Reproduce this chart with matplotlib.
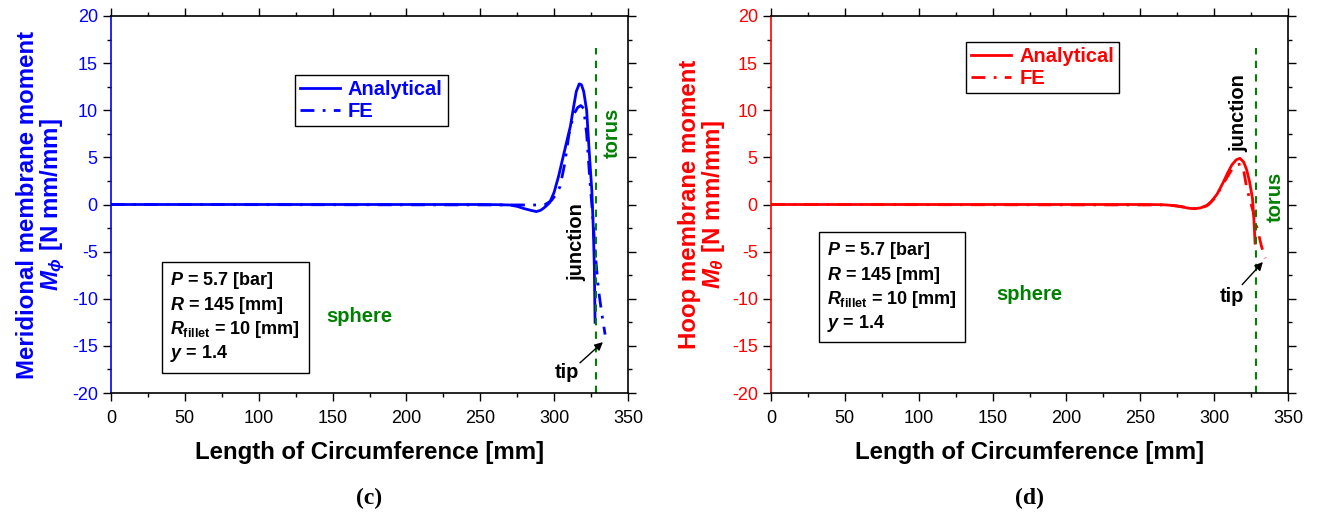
import matplotlib
matplotlib.use("Agg")
import matplotlib.pyplot as plt
from matplotlib.ticker import MultipleLocator

plt.rcParams['font.family'] = ['Liberation Sans', 'DejaVu Sans']
plt.rcParams['mathtext.fontset'] = 'custom'
plt.rcParams['mathtext.rm'] = 'Liberation Sans:bold'
plt.rcParams['mathtext.bf'] = 'Liberation Sans:bold'
plt.rcParams['mathtext.it'] = 'Liberation Sans:italic:bold'
plt.rcParams['axes.unicode_minus'] = False

# (c) meridional moment
xc_an = [0, 250, 262, 270, 275, 280, 285, 288, 291, 294, 297, 300, 303, 306, 309, 311,
         313, 315, 317, 318.5, 320, 322, 324, 325.5, 326.5, 327.2, 327.7]
yc_an = [0, 0, -0.02, -0.05, -0.2, -0.45, -0.65, -0.75, -0.6, -0.25, 0.2, 1.3, 3.0, 5.0,
         7.0, 8.3, 10.2, 12.0, 12.8, 12.7, 12.0, 10.0, 5.0, 1.5, -2.5, -6.5, -12.5]
xc_fe = [0, 290, 294, 298, 301, 304, 307, 310, 313, 316, 318, 320, 322, 324, 326, 328,
         330, 332, 334.5]
yc_fe = [0, -0.05, 0.0, 0.4, 1.0, 1.9, 4.2, 7.4, 9.5, 10.3, 10.5, 10.2, 7.5, 3.0, -1.0,
         -5.5, -9.0, -11.3, -13.8]

# (d) hoop moment
xd_an = [0, 250, 265, 272, 278, 283, 287, 291, 295, 298, 302, 306, 309, 312, 315, 317.5,
         320, 322, 324, 326, 327, 327.7]
yd_an = [0, 0, -0.02, -0.1, -0.25, -0.4, -0.45, -0.35, -0.1, 0.3, 1.1, 2.3, 3.3, 4.2, 4.75,
         4.9, 4.5, 3.7, 2.4, 0.6, -1.8, -4.1]
xd_fe = [0, 265, 275, 283, 288, 292, 296, 300, 304, 308, 312, 315, 318, 320, 322, 324,
         326, 328, 330, 332, 334.5]
yd_fe = [0, -0.05, -0.15, -0.35, -0.45, -0.35, -0.05, 0.6, 1.6, 2.7, 3.7, 4.2, 4.3, 3.6,
         1.8, 0.6, -0.5, -1.8, -3.1, -4.4, -5.7]

torus_x = 328
torus_y = [-20, 16.6]
params = ["$P$ = 5.7 [bar]", "$R$ = 145 [mm]", r"$R_\mathrm{fillet}$ = 10 [mm]", "$y$ = 1.4"]

green = '#008000'
fig = plt.figure(figsize=(13.22, 5.15), dpi=100)


def panel(pos, x_an, y_an, x_fe, y_fe, col, ylab, tag, leg_loc, box_xy, sph_xy,
          junc_xy, torus_xy, tip_xy, tip_from, tip_to):
    ax = fig.add_axes(pos)
    ax.plot(x_an, y_an, color=col, lw=2, label='Analytical')
    ax.plot(x_fe, y_fe, color=col, lw=2, dashes=[5, 3, 1, 3], label='FE')
    ax.plot([torus_x, torus_x], torus_y, color=green, lw=1.5, dashes=[3.5, 3])
    ax.set_xlim(0, 350)
    ax.set_ylim(-20, 20)
    ax.xaxis.set_major_locator(MultipleLocator(50))
    ax.xaxis.set_minor_locator(MultipleLocator(25))
    ax.yaxis.set_major_locator(MultipleLocator(5))
    ax.yaxis.set_minor_locator(MultipleLocator(2.5))
    ax.tick_params(which='both', direction='out', top=True, right=True, labelsize=13)
    ax.tick_params(which='major', length=6, width=1)
    ax.tick_params(which='minor', length=3, width=1)
    ax.tick_params(axis='x', which='major', pad=6)
    ax.tick_params(axis='y', which='both', labelcolor=col)
    ax.spines['left'].set_color(col)
    for s in ax.spines.values():
        s.set_linewidth(1.2)
    ax.set_xlabel('Length of Circumference [mm]', fontsize=17.3, fontweight='bold', labelpad=10)
    ax.set_ylabel(ylab, fontsize=17.3, fontweight='bold', color=col, linespacing=0.95)
    ax.yaxis.set_label_coords(-0.086, 0.5)
    fig.text(pos[0] + pos[2] * 0.5, 1 - 498 / 515, tag, ha='center', va='center',
             fontsize=17, fontweight='bold', family='Liberation Serif')
    leg = ax.legend(loc='upper left', bbox_to_anchor=leg_loc, fontsize=14.5,
                    handlelength=2.0, handletextpad=0.4, borderpad=0.25, labelspacing=0.15,
                    borderaxespad=0, fancybox=False, edgecolor='black', framealpha=1)
    leg.get_frame().set_linewidth(1)
    for t in leg.get_texts():
        t.set_color(col)
        t.set_fontweight('bold')
    ax.text(box_xy[0], box_xy[1], "\n".join(params), transform=ax.transAxes,
            ha='left', va='top', fontsize=13, fontweight='bold', linespacing=1.22,
            bbox=dict(boxstyle='square,pad=0.45', fc='white', ec='black', lw=1))
    ax.text(sph_xy[0], sph_xy[1], 'sphere', color=green, fontsize=14.5,
            fontweight='bold', ha='center', va='center')
    ax.text(junc_xy[0], junc_xy[1], 'junction', color='black', fontsize=14.5,
            fontweight='bold', ha='center', va='center', rotation=90)
    ax.text(torus_xy[0], torus_xy[1], 'torus', color=green, fontsize=14.5,
            fontweight='bold', ha='center', va='center', rotation=90)
    ax.text(tip_xy[0], tip_xy[1], 'tip', fontsize=14.5, fontweight='bold',
            ha='center', va='center')
    ax.annotate('', xy=tip_to, xytext=tip_from,
                arrowprops=dict(arrowstyle='-|>', color='black', lw=1,
                                shrinkA=0, shrinkB=0, mutation_scale=12))
    return ax


panel([111 / 1322, 122 / 515, 517 / 1322, 377 / 515], xc_an, yc_an, xc_fe, yc_fe,
      '#0000ff', 'Meridional membrane moment\n' + r'$M_\phi$ [N mm/mm]', '(c)',
      (0.355, 0.843), (0.115, 0.325), (168, -11.9), (315.5, -4), (339, 7.6),
      (308.5, -17.8), (317.5, -16.8), (333, -14.6))
panel([771 / 1322, 122 / 515, 517 / 1322, 377 / 515], xd_an, yd_an, xd_fe, yd_fe,
      '#ff0000', 'Hoop membrane moment\n' + r'$M_\theta$ [N mm/mm]', '(d)',
      (0.377, 0.93), (0.108, 0.405), (175, -9.6), (316.5, 9.7), (341.5, 0.8),
      (312, -9.8), (319, -8.5), (333, -6.1))

fig.savefig('out.png', dpi=100)
